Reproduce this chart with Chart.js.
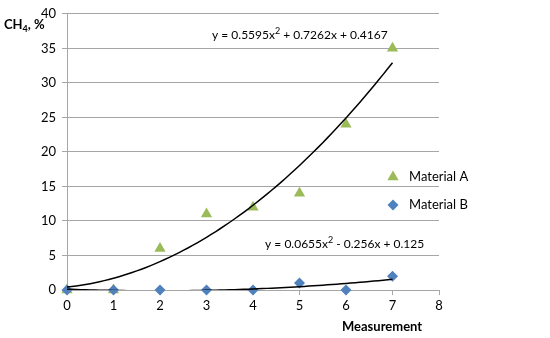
<!DOCTYPE html>
<html><head><meta charset="utf-8">
<script src="https://cdn.jsdelivr.net/npm/chart.js@4.4.0/dist/chart.umd.min.js"></script>
<style>html,body{margin:0;padding:0;background:#fff}#wrap{width:550px;height:338px}</style>
</head><body><div id="wrap"><canvas id="c" width="550" height="338"></canvas></div>
<script>
const measurements = [0, 1, 2, 3, 4, 5, 6, 7];
const materialA = [0, 0, 6, 11, 12, 14, 24, 35];
const materialB = [0, 0, 0, 0, 0, 1, 0, 2];
const trendA = [0.5595, 0.7262, 0.4167]; // a, b, c
const trendB = [0.0655, -0.256, 0.125];
const yTicks = [0, 5, 10, 15, 20, 25, 30, 35, 40];
const xTicks = [0, 1, 2, 3, 4, 5, 6, 7, 8];
const labelA = ['y = 0.5595x', '2', ' + 0.7262x + 0.4167'];
const labelB = ['y = 0.0655x', '2', ' - 0.256x + 0.125'];

const FONT = 'Lato, "Open Sans", sans-serif';
const colA = '#9BBB59', colB = '#4F81BD';

function trendPoints(coef) {
  const pts = [];
  for (let i = 0; i <= 70; i++) {
    const x = i / 10;
    pts.push({x: x, y: coef[0]*x*x + coef[1]*x + coef[2]});
  }
  return pts;
}

function drawSup(ctx, parts, x, y, size) {
  ctx.font = size + 'px ' + FONT;
  ctx.fillText(parts[0], x, y);
  x += ctx.measureText(parts[0]).width;
  ctx.font = Math.round(size * 0.72) + 'px ' + FONT;
  ctx.fillText(parts[1], x, y - 4);
  x += ctx.measureText(parts[1]).width;
  ctx.font = size + 'px ' + FONT;
  ctx.fillText(parts[2], x, y);
}

const extras = {
  id: 'extras',
  afterDraw(chart) {
    const ctx = chart.ctx, xs = chart.scales.x, ys = chart.scales.y;
    ctx.save();
    ctx.fillStyle = '#000';
    ctx.textBaseline = 'middle';
    ctx.textAlign = 'left';
    drawSup(ctx, labelA, xs.getPixelForValue(3.12), ys.getPixelForValue(36.9), 12);
    drawSup(ctx, labelB, xs.getPixelForValue(4.26), ys.getPixelForValue(6.7), 12);
    // axis titles
    ctx.font = 'bold 13px ' + FONT;
    ctx.fillText('Measurement', 342, 327);
    ctx.fillText('CH', 4, 25);
    let w = ctx.measureText('CH').width;
    ctx.font = 'bold 9px ' + FONT;
    ctx.fillText('4', 4 + w, 29);
    let w2 = ctx.measureText('4').width;
    ctx.font = 'bold 13px ' + FONT;
    ctx.fillText(', %', 4 + w + w2, 25);
    // legend
    const items = [
      {text: 'Material A', ds: chart.data.datasets[0], y: 177},
      {text: 'Material B', ds: chart.data.datasets[1], y: 205}
    ];
    items.forEach(it => {
      ctx.fillStyle = it.ds.backgroundColor;
      ctx.strokeStyle = it.ds.backgroundColor;
      ctx.lineWidth = 0;
      Chart.helpers.drawPoint(ctx, {
        pointStyle: it.ds.pointStyle, radius: it.ds.pointRadius, rotation: 0, borderWidth: 0
      }, 393, it.y);
      ctx.fillStyle = '#000';
      ctx.font = '13px ' + FONT;
      ctx.fillText(it.text, 409, it.y);
    });
    ctx.restore();
  }
};

new Chart(document.getElementById('c'), {
  type: 'scatter',
  data: {
    datasets: [
      {label: 'Material A', data: measurements.map((m, i) => ({x: m, y: materialA[i]})),
       pointStyle: 'triangle', pointRadius: 6.5, backgroundColor: colA, borderColor: colA, borderWidth: 0, order: 2, clip: false},
      {label: 'Material B', data: measurements.map((m, i) => ({x: m, y: materialB[i]})),
       pointStyle: 'rectRot', pointRadius: 5.5, backgroundColor: colB, borderColor: colB, borderWidth: 0, order: 1, clip: false},
      {label: 'Trend A', type: 'line', data: trendPoints(trendA), showLine: true, pointRadius: 0,
       borderColor: '#000', borderWidth: 1.5, fill: false, order: 0},
      {label: 'Trend B', type: 'line', data: trendPoints(trendB), showLine: true, pointRadius: 0,
       borderColor: '#000', borderWidth: 1.5, fill: false, order: 0}
    ]
  },
  plugins: [extras],
  options: {
    responsive: false,
    animation: false,
    devicePixelRatio: 1,
    layout: {padding: {left: 0, right: 111, top: 10, bottom: 0}},
    plugins: {
      legend: {display: false},
      tooltip: {enabled: false}
    },
    scales: {
      x: {
        type: 'linear', min: 0, max: 8,
        afterBuildTicks: s => { s.ticks = xTicks.map(v => ({value: v})); },
        afterFit: s => { s.height = 48; },
        grid: {drawOnChartArea: false, drawTicks: true, tickLength: 5, color: '#a6a6a6'},
        border: {color: '#a6a6a6'},
        ticks: {color: '#000', font: {family: FONT, size: 13}, padding: 3}
      },
      y: {
        min: 0, max: 40,
        afterBuildTicks: s => { s.ticks = yTicks.map(v => ({value: v})); },
        afterFit: s => { s.width = 67; },
        grid: {color: '#a6a6a6', tickLength: 5},
        border: {color: '#a6a6a6'},
        ticks: {color: '#000', font: {family: FONT, size: 13}, padding: 6}
      }
    }
  }
});
</script></body></html>
